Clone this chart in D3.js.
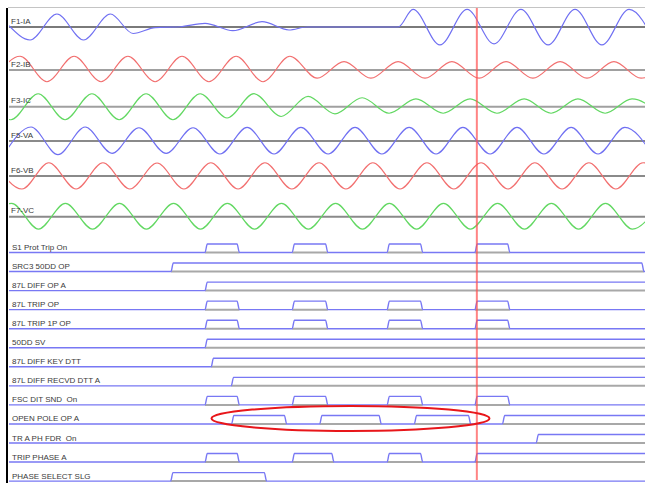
<!DOCTYPE html>
<html>
<head>
<meta charset="utf-8">
<script src="https://cdn.jsdelivr.net/npm/d3@7"></script>
<style>
  html, body { margin: 0; padding: 0; background: #fff; }
  svg { display: block; }
  text { font-family: "Liberation Sans", Arial, sans-serif; white-space: pre; }
</style>
</head>
<body>
<svg id="chart" width="645" height="483"></svg>
<script>
// ---------------- Record data (time in ms, analog values in per-unit) ----------------
const analogNames = ["F1-IA", "F2-IB", "F3-IC", "F5-VA", "F6-VB", "F7-VC"];

// Extremes of each analog trace (peaks / troughs / flat points)
const iaTime  = [0, 6.5, 14.8, 23.0, 31.3, 38.3, 45.1, 52.8, 60.5, 69.1, 78.1, 86.4, 92.0, 120.1,
                 124.7, 133.0, 141.4, 149.7, 158.0, 166.4, 174.7, 183.0, 191.4, 199.7];
const iaValue = [0.1, -1.0, 1.0, -1.0, 1.0, -0.5, -0.05, 0.02, 0.28, -0.28, 0.41, -0.23, 0.0, 0.0,
                 1.36, -1.38, 1.36, -1.3, 1.36, -1.38, 1.36, -1.38, 1.36, -1.38];

const ibTime  = [-4.9, 3.4, 11.7, 20.1, 28.4, 36.7, 45.1, 53.4, 61.7, 70.1, 78.4, 86.7, 95.1,
                 103.4, 111.7, 120.1, 128.4, 136.7, 145.1, 153.4, 161.7, 170.1, 178.4, 186.7, 195.1, 203.4];
const ibValue = [-0.9, 1.06, -0.9, 1.06, -0.9, 1.06, -0.9, 1.06, -0.9, 1.06, -0.9, 1.06, -0.63,
                 0.65, -0.63, 0.65, -0.63, 0.65, -0.63, 0.65, -0.63, 0.65, -0.63, 0.65, -0.63, 0.65];

const icTime  = [-7.7, 0.6, 9.0, 17.3, 25.6, 34.0, 42.3, 50.6, 59.0, 67.3, 75.6, 84.0, 92.3,
                 100.6, 109.0, 117.3, 125.6, 134.0, 142.3, 150.6, 159.0, 167.3, 175.6, 184.0, 192.3, 200.6];
const icValue = [1.0, -1.0, 1.0, -1.0, 1.0, -1.0, 1.0, -1.0, 1.0, -0.87, 1.0, -0.75, 0.79,
                 -0.55, 0.69, -0.5, 0.6, -0.5, 0.6, -0.5, 0.6, -0.5, 0.6, -0.5, 0.6, -0.5];

const vaTime  = [-1.5, 6.8, 15.1, 23.5, 31.8, 40.1, 48.5, 56.8, 65.1, 73.5, 81.8, 90.1, 98.5,
                 106.8, 115.1, 123.5, 131.8, 140.1, 148.5, 156.8, 165.1, 173.5, 181.8, 190.1, 198.5];
const vaValue = [-1.0, 1.08, -1.05, 1.08, -0.95, 1.02, -0.95, 1.02, -1.0, 1.05, -1.0, 1.05, -1.0,
                 1.05, -1.0, 1.05, -1.0, 1.05, -1.0, 1.05, -1.0, 1.05, -1.0, 1.05, -1.0];

const vbTime  = [-4.3, 4.0, 12.3, 20.7, 29.0, 37.3, 45.7, 54.0, 62.3, 70.7, 79.0, 87.3, 95.7,
                 104.0, 112.3, 120.7, 129.0, 137.3, 145.7, 154.0, 162.3, 170.7, 179.0, 187.3, 195.7, 204.0];
const vbValue = [1.02, -1.0, 1.02, -1.0, 1.02, -1.0, 1.0, -1.0, 1.02, -1.0, 1.02, -1.0, 1.02,
                 -1.0, 1.02, -1.0, 1.02, -1.0, 1.02, -1.0, 1.02, -1.0, 1.02, -1.0, 1.02, -1.0];

const vcTime  = [-7.6, 0.8, 9.1, 17.4, 25.8, 34.1, 42.4, 50.8, 59.1, 67.4, 75.8, 84.1, 92.4,
                 100.8, 109.1, 117.4, 125.8, 134.1, 142.4, 150.8, 159.1, 167.4, 175.8, 184.1, 192.4, 200.8];
const vcValue = [-0.95, 1.03, -0.95, 1.03, -0.95, 1.03, -0.95, 1.03, -0.95, 1.03, -0.95, 1.03, -0.95,
                 1.03, -0.95, 1.03, -0.95, 1.03, -0.95, 1.03, -0.95, 1.03, -0.95, 1.03, -0.95, 1.03];

// Digital elements: [pickup, dropout] in ms; null dropout = still asserted at end of record
const digitalNames = ["S1 Prot Trip On", "SRC3 50DD OP", "87L DIFF OP A", "87L TRIP OP",
                      "87L TRIP 1P OP", "50DD SV", "87L DIFF KEY DTT", "87L DIFF RECVD DTT A",
                      "FSC DIT SND  On", "OPEN POLE OP A", "TR A PH FDR  On", "TRIP PHASE A",
                      "PHASE SELECT SLG"];
const protTripOn   = [[60.5, 71.1], [87.4, 98.4], [116.7, 127.7], [143.8, 154.6]];
const src3DdOp     = [[50.0, 196.0]];
const diffOpA      = [[60.5, null]];
const tripOp       = [[60.5, 71.1], [87.4, 98.4], [116.7, 127.7], [143.8, 154.6]];
const trip1pOp     = [[60.5, 71.1], [87.4, 98.4], [116.7, 127.7], [143.8, 154.6]];
const ddSv         = [[60.5, null]];
const diffKeyDtt   = [[62.4, null]];
const diffRecvdDtt = [[68.6, null]];
const fscDitSnd    = [[60.5, 71.1], [87.4, 98.4], [116.7, 127.7], [143.8, 154.6]];
const openPoleOpA  = [[68.7, 85.7], [95.9, 114.9], [125.1, 142.5], [152.3, null]];
const trAPhFdr     = [[162.7, null]];
const tripPhaseA   = [[60.5, 71.1], [87.4, 100.3], [116.7, 127.7], [143.8, null]];
const phaseSelSlg  = [[49.9, 79.5]];

const cursorTime = 144.4;                 // red time cursor
const highlightSpan = [62.5, 148.3];      // circled span on OPEN POLE OP A
const highlightRow = "OPEN POLE OP A";

// ---------------- Layout & style ----------------
const W = 645, H = 483;
const timeDomain = [0, 196.3];
const plotLeft = 9, plotRight = 645;
const analogBaseY = [27, 70, 106.7, 141, 176, 216.7];
const analogPxPerUnit = 13;
const analogColors = ["#7070f2", "#f27070", "#62d862", "#7070f2", "#f27070", "#62d862"];
const analogAxisColors = ["#7a7a7a", "#a0a0a0", "#a0a0a0", "#8a8a8a", "#8a8a8a", "#8a8a8a"];
const digitalTopY = 252.5, digitalBottomY = 481.1, digitalHighPx = 8.5;
const edgeMs = 0.7;

const svg = d3.select("#chart");
svg.append("rect").attr("width", W).attr("height", H).attr("fill", "#fff");

const x = d3.scaleLinear().domain(timeDomain).range([plotLeft, plotRight]);

svg.append("clipPath").attr("id", "plotClip")
  .append("rect").attr("x", plotLeft).attr("y", 0).attr("width", plotRight - plotLeft).attr("height", H);

// top frame line
svg.append("line").attr("x1", 8).attr("x2", W).attr("y1", 7.5).attr("y2", 7.5)
  .attr("stroke", "#c4c4c4").attr("stroke-width", 1);

// ---------------- Analog traces ----------------
const analogSeries = [
  [iaTime, iaValue], [ibTime, ibValue], [icTime, icValue],
  [vaTime, vaValue], [vbTime, vbValue], [vcTime, vcValue]
];

const analogG = svg.append("g");
analogSeries.forEach(([ts, vs], i) => {
  const base = analogBaseY[i];
  const y = d3.scaleLinear().domain([-1, 1]).range([base + analogPxPerUnit, base - analogPxPerUnit]);
  analogG.append("line")
    .attr("x1", x(timeDomain[0])).attr("x2", x(timeDomain[1]))
    .attr("y1", y(0)).attr("y2", y(0))
    .attr("stroke", analogAxisColors[i]).attr("stroke-width", 2);
  const pts = ts.map((t, k) => [t, vs[k]]);
  const line = d3.line().x(d => x(d[0])).y(d => y(d[1])).curve(d3.curveMonotoneX);
  analogG.append("path")
    .attr("d", line(pts))
    .attr("clip-path", "url(#plotClip)")
    .attr("fill", "none")
    .attr("stroke", analogColors[i])
    .attr("stroke-width", 1.15);
  analogG.append("text")
    .attr("x", 11).attr("y", base - 3.5)
    .attr("font-size", 8).attr("fill", "#3a3a3a")
    .text(analogNames[i]);
});

// ---------------- Digital traces ----------------
const digitalIntervals = [protTripOn, src3DdOp, diffOpA, tripOp, trip1pOp, ddSv, diffKeyDtt,
                          diffRecvdDtt, fscDitSnd, openPoleOpA, trAPhFdr, tripPhaseA, phaseSelSlg];

const rowY = d3.scalePoint().domain(digitalNames).range([digitalTopY, digitalBottomY]);

const digitalG = svg.append("g");
digitalNames.forEach((name, i) => {
  const base = rowY(name);
  const y = d3.scaleLinear().domain([0, 1]).range([base, base - digitalHighPx]);
  const spans = digitalIntervals[i];

  // grey reference under asserted periods
  spans.forEach(([on, off]) => {
    digitalG.append("line")
      .attr("x1", x(on)).attr("x2", x(off == null ? timeDomain[1] : off))
      .attr("y1", base).attr("y2", base)
      .attr("stroke", "#a8a8a8").attr("stroke-width", 2);
  });

  const pts = [[timeDomain[0], 0]];
  let state = 0;
  spans.forEach(([on, off]) => {
    pts.push([on, 0], [on + edgeMs, 1]);
    state = 1;
    if (off != null) { pts.push([off - edgeMs, 1], [off, 0]); state = 0; }
  });
  pts.push([timeDomain[1], state]);

  const line = d3.line().x(d => x(d[0])).y(d => y(d[1])).curve(d3.curveMonotoneX);
  digitalG.append("path")
    .attr("d", line(pts))
    .attr("fill", "none")
    .attr("stroke", "#7878f4")
    .attr("stroke-width", 1.4);

  digitalG.append("text")
    .attr("x", 12).attr("y", base - 2.5)
    .attr("font-size", 8).attr("fill", "#3a3a3a")
    .text(name);
});

// ---------------- Cursor & highlight ----------------
svg.append("line")
  .attr("x1", x(cursorTime)).attr("x2", x(cursorTime))
  .attr("y1", 8).attr("y2", 480)
  .attr("stroke", "rgba(255,80,80,0.7)").attr("stroke-width", 2);

const hx0 = x(highlightSpan[0]), hx1 = x(highlightSpan[1]);
svg.append("ellipse")
  .attr("cx", (hx0 + hx1) / 2).attr("cy", rowY(highlightRow) - 5.5)
  .attr("rx", (hx1 - hx0) / 2).attr("ry", 12.5)
  .attr("fill", "none").attr("stroke", "#e8161a").attr("stroke-width", 2);

// left frame
svg.append("line").attr("x1", 7).attr("x2", 7).attr("y1", 8).attr("y2", H)
  .attr("stroke", "#000").attr("stroke-width", 2);
</script>
</body>
</html>
